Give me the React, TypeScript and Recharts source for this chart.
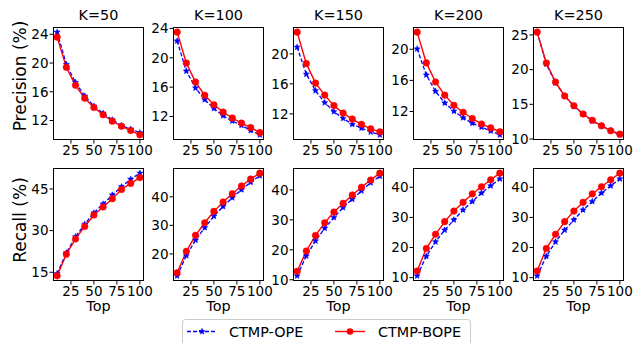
import React from 'react';
import { LineChart, Line, XAxis, YAxis } from 'recharts';

// x values (Top-N)
const tops = [10, 20, 30, 40, 50, 60, 70, 80, 90, 100];
const xTicks = [25, 50, 75, 100];
const kLabels = ['K=50', 'K=100', 'K=150', 'K=200', 'K=250'];

// Precision (%) per K
const precisionOpe = [
  [24.3, 19.8, 17.3, 15.4, 14.0, 13.0, 12.1, 11.3, 10.8, 10.3],
  [22.3, 18.2, 15.9, 14.3, 13.1, 12.1, 11.4, 10.8, 10.1, 9.5],
  [20.9, 17.3, 15.1, 13.5, 12.3, 11.4, 10.6, 10.1, 9.6, 9.2],
  [20.05, 16.7, 14.6, 13.1, 12.05, 11.2, 10.5, 10.0, 9.5, 9.0],
  [25.4, 20.8, 18.1, 16.2, 14.7, 13.6, 12.6, 11.9, 11.2, 10.6],
];
const precisionBope = [
  [23.6, 19.4, 16.9, 15.1, 13.8, 12.8, 11.9, 11.2, 10.6, 10.0],
  [23.5, 19.3, 16.7, 14.9, 13.6, 12.6, 11.8, 11.1, 10.5, 9.8],
  [22.9, 18.7, 16.1, 14.5, 13.1, 12.1, 11.3, 10.6, 10.0, 9.6],
  [22.2, 18.25, 15.8, 14.1, 12.8, 11.9, 11.1, 10.4, 9.9, 9.4],
  [25.4, 20.96, 18.2, 16.2, 14.8, 13.6, 12.7, 11.9, 11.2, 10.7],
];
const precisionTicks = [
  [12, 16, 20, 24],
  [12, 16, 20, 24],
  [12, 16, 20],
  [12, 16, 20],
  [10, 15, 20, 25],
];

// Recall (%) per K
const recallOpe = [
  [14.5, 22.0, 27.8, 32.3, 36.4, 39.6, 42.8, 45.8, 48.5, 50.7],
  [12.3, 19.4, 24.8, 29.2, 33.2, 36.6, 39.7, 42.5, 45.1, 47.4],
  [11.3, 18.0, 23.0, 27.2, 30.8, 34.1, 36.9, 39.7, 42.4, 44.6],
  [10.6, 17.1, 21.9, 25.8, 29.2, 32.5, 35.3, 38.1, 40.5, 42.8],
  [10.6, 17.1, 21.9, 25.8, 29.2, 32.5, 35.3, 38.1, 40.5, 42.8],
];
const recallBope = [
  [13.7, 21.5, 27.0, 31.5, 35.6, 38.5, 41.5, 44.8, 47.0, 49.1],
  [13.4, 20.9, 26.5, 30.9, 34.9, 38.2, 41.1, 43.8, 46.2, 48.3],
  [12.8, 19.6, 24.8, 29.0, 32.6, 35.5, 38.3, 40.9, 43.3, 45.6],
  [12.2, 19.7, 24.4, 28.6, 32.1, 35.0, 37.8, 40.2, 42.5, 44.7],
  [12.2, 19.7, 24.4, 28.6, 32.1, 35.0, 37.8, 40.2, 42.5, 44.7],
];
const recallTicks = [
  [15, 30, 45],
  [20, 30, 40],
  [10, 20, 30, 40],
  [10, 20, 30, 40],
  [10, 20, 30, 40],
];

const FONT = '"DejaVu Sans", sans-serif';
const BLUE = '#0000ff';
const RED = '#ff0000';

const PANEL_LEFT = [53, 173, 293, 413, 533];
const ROW_TOP = [27, 168];
const PLOT_W = 91;
const PLOT_H = 113;
const AXIS_W = 40;
const XAXIS_H = 25;
const RIGHT_PAD = 14;
const TOP_PAD = 10;

const starPoints = (cx: number, cy: number, ro: number, ri: number) => {
  const pts: string[] = [];
  for (let i = 0; i < 10; i++) {
    const r = i % 2 === 0 ? ro : ri;
    const a = -Math.PI / 2 + (i * Math.PI) / 5;
    pts.push(`${cx + r * Math.cos(a)},${cy + r * Math.sin(a)}`);
  }
  return pts.join(' ');
};

const StarDot = (props: any) => {
  const { cx, cy, index } = props;
  if (cx == null || cy == null) return <g key={index} />;
  return <polygon key={index} points={starPoints(cx, cy, 3.2, 1.5)} fill={BLUE} stroke={BLUE} strokeWidth={0.5} />;
};

const tickStyle = { fontSize: 13.5, fill: '#000', fontFamily: FONT };

function Panel({ left, top, ope, bope, yTicks }: { left: number; top: number; ope: number[]; bope: number[]; yTicks: number[] }) {
  const data = tops.map((t, i) => ({ top: t, ope: ope[i], bope: bope[i] }));
  const all = [...ope, ...bope];
  const lo = Math.min(...all);
  const hi = Math.max(...all);
  const pad = (hi - lo) * 0.05;
  return (
    <div style={{ position: 'absolute', left: left - AXIS_W, top: top - TOP_PAD }}>
      <LineChart
        width={AXIS_W + PLOT_W + RIGHT_PAD}
        height={TOP_PAD + PLOT_H + XAXIS_H}
        data={data}
        margin={{ top: TOP_PAD, right: RIGHT_PAD, bottom: 0, left: 0 }}
      >
        <XAxis
          dataKey="top"
          type="number"
          domain={[5.5, 104.5]}
          allowDataOverflow
          ticks={xTicks}
          interval={0}
          axisLine={false}
          tickLine={{ stroke: '#000' }}
          tickSize={3.5}
          tickMargin={2}
          height={XAXIS_H}
          tick={tickStyle}
        />
        <YAxis
          type="number"
          domain={[lo - pad, hi + pad]}
          allowDataOverflow
          ticks={yTicks}
          interval={0}
          axisLine={false}
          tickLine={{ stroke: '#000' }}
          tickSize={3.5}
          tickMargin={1}
          width={AXIS_W}
          tick={tickStyle}
        />
        <Line
          dataKey="ope"
          stroke={BLUE}
          strokeWidth={1.3}
          strokeDasharray="4 2"
          dot={<StarDot />}
          isAnimationActive={false}
        />
        <Line
          dataKey="bope"
          stroke={RED}
          strokeWidth={1.4}
          dot={{ r: 3.3, fill: RED, stroke: RED, strokeWidth: 0.5 }}
          isAnimationActive={false}
        />
      </LineChart>
    </div>
  );
}

export default function App() {
  return (
    <div style={{ position: 'absolute', left: 0, top: 0, width: 635, height: 343, background: '#fff', overflow: 'hidden', fontFamily: FONT }}>
      {PANEL_LEFT.map((l, i) => (
        <Panel key={`p${i}`} left={l} top={ROW_TOP[0]} ope={precisionOpe[i]} bope={precisionBope[i]} yTicks={precisionTicks[i]} />
      ))}
      {PANEL_LEFT.map((l, i) => (
        <Panel key={`r${i}`} left={l} top={ROW_TOP[1]} ope={recallOpe[i]} bope={recallBope[i]} yTicks={recallTicks[i]} />
      ))}
      <svg width={635} height={343} style={{ position: 'absolute', left: 0, top: 0, pointerEvents: 'none' }}>
        {ROW_TOP.map((t) =>
          PANEL_LEFT.map((l) => (
            <rect key={`f${t}-${l}`} x={l + 0.5} y={t + 0.5} width={PLOT_W - 1} height={PLOT_H - 1} fill="none" stroke="#000" strokeWidth={1} />
          ))
        )}
        {kLabels.map((k, i) => (
          <text key={k} x={PANEL_LEFT[i] + PLOT_W / 2} y={19.5} textAnchor="middle" fontSize={14.4} fontFamily={FONT} fill="#000">
            {k}
          </text>
        ))}
        {PANEL_LEFT.map((l, i) => (
          <text key={`top${i}`} x={l + PLOT_W / 2} y={311} textAnchor="middle" fontSize={14.4} fontFamily={FONT} fill="#000">
            Top
          </text>
        ))}
        <text transform="translate(26,76) rotate(-90)" textAnchor="middle" fontSize={17} fontFamily={FONT} fill="#000">
          Precision (%)
        </text>
        <text transform="translate(26,220) rotate(-90)" textAnchor="middle" fontSize={17} fontFamily={FONT} fill="#000">
          Recall (%)
        </text>
        <rect x={182.5} y={319.5} width={288} height={40} rx={3} fill="#fff" stroke="#cccccc" strokeWidth={1} />
        <line x1={187} y1={331.5} x2={217} y2={331.5} stroke={BLUE} strokeWidth={1.3} strokeDasharray="4 2" />
        <polygon points={starPoints(202, 331.5, 3.2, 1.5)} fill={BLUE} stroke={BLUE} strokeWidth={0.5} />
        <text x={229} y={337} fontSize={14.4} fontFamily={FONT} fill="#000">CTMP-OPE</text>
        <line x1={335} y1={331.5} x2={365} y2={331.5} stroke={RED} strokeWidth={1.4} />
        <circle cx={350} cy={331.5} r={3.3} fill={RED} />
        <text x={378} y={337} fontSize={14.4} fontFamily={FONT} fill="#000">CTMP-BOPE</text>
      </svg>
    </div>
  );
}
